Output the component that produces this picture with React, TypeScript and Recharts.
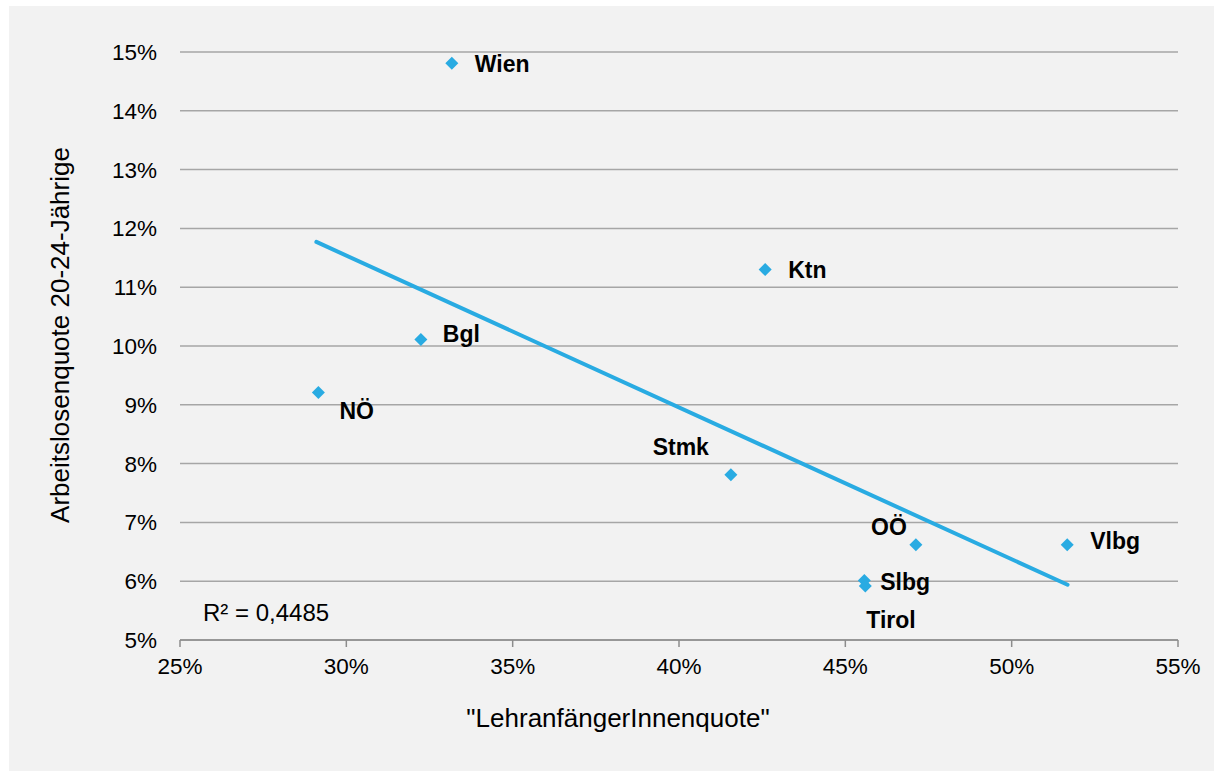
import { CartesianGrid, Label, Scatter, ScatterChart, XAxis, YAxis, ZAxis } from "recharts";

const REGIONS = ["Wien", "Ktn", "Bgl", "NÖ", "Stmk", "OÖ", "Vlbg", "Slbg", "Tirol"];
const LEHR_QUOTE = [33.17, 42.59, 32.24, 29.16, 41.56, 47.12, 51.67, 45.57, 45.6];
const ALQ_20_24 = [14.81, 11.3, 10.11, 9.21, 7.81, 6.62, 6.62, 6.01, 5.92];

const TREND_X = [29.1, 51.68];
const TREND_Y = [11.77, 5.94];

const X_TICKS = [25, 30, 35, 40, 45, 50, 55];
const Y_TICKS = [5, 6, 7, 8, 9, 10, 11, 12, 13, 14, 15];

const R2_TEXT = "R² = 0,4485";

const POINTS = REGIONS.map((name, i) => ({ name, x: LEHR_QUOTE[i], y: ALQ_20_24[i] }));
const TREND = TREND_X.map((x, i) => ({ x, y: TREND_Y[i] }));

// where each region label sits relative to its marker
const LABEL_POS: Record<string, { dx: number; dy: number; anchor: "start" | "end" }> = {
  Wien: { dx: 23, dy: 9, anchor: "start" },
  Ktn: { dx: 23, dy: 8, anchor: "start" },
  Bgl: { dx: 22, dy: 2, anchor: "start" },
  "NÖ": { dx: 21, dy: 27, anchor: "start" },
  Stmk: { dx: -22, dy: -20, anchor: "end" },
  "OÖ": { dx: -9, dy: -10, anchor: "end" },
  Vlbg: { dx: 23, dy: 4, anchor: "start" },
  Slbg: { dx: 16, dy: 9, anchor: "start" },
  Tirol: { dx: 1, dy: 42, anchor: "start" },
};

const BLUE = "#29abe2";
const FONT = "'Liberation Sans', Arial, sans-serif";

function Marker(props: any) {
  const { cx, cy, payload } = props;
  const pos = LABEL_POS[payload.name];
  const r = 6.5;
  return (
    <g>
      <path d={`M${cx},${cy - r}L${cx + r},${cy}L${cx},${cy + r}L${cx - r},${cy}Z`} fill={BLUE} />
      <text
        x={cx + pos.dx}
        y={cy + pos.dy}
        textAnchor={pos.anchor}
        fontFamily={FONT}
        fontSize={23}
        fontWeight="bold"
        fill="#000"
      >
        {payload.name}
      </text>
    </g>
  );
}

export default function App() {
  return (
    <div style={{ position: "absolute", left: 9, top: 6, width: 1205, height: 765, background: "#f2f2f2" }}>
      <ScatterChart width={1205} height={765} margin={{ top: 46, right: 36, bottom: 71, left: 0 }}>
        <CartesianGrid vertical={false} stroke="#a6a6a6" strokeWidth={1.5} />
        <ZAxis range={[80, 80]} />
        <XAxis
          type="number"
          dataKey="x"
          domain={[25, 55]}
          ticks={X_TICKS}
          tickFormatter={(v) => `${v}%`}
          height={60}
          tickSize={7}
          tickMargin={11}
          stroke="#8c8c8c"
          strokeWidth={1.5}
          tick={{ fontSize: 22.5, fill: "#000", fontFamily: FONT }}
        >
          <Label
            content={() => (
              <text x={609} y={721} textAnchor="middle" fontSize={26} fontFamily={FONT} fill="#000">
                "LehranfängerInnenquote"
              </text>
            )}
          />
        </XAxis>
        <YAxis
          type="number"
          dataKey="y"
          domain={[5, 15]}
          ticks={Y_TICKS}
          tickFormatter={(v) => `${v}%`}
          width={171}
          axisLine={false}
          tickLine={false}
          tickSize={6}
          tickMargin={17}
          tick={{ fontSize: 22.5, fill: "#000", fontFamily: FONT }}
        >
          <Label
            content={() => (
              <g>
                <text
                  x={60}
                  y={329}
                  transform="rotate(-90 60 329)"
                  textAnchor="middle"
                  fontSize={26}
                  fontFamily={FONT}
                  fill="#000"
                >
                  Arbeitslosenquote 20-24-Jährige
                </text>
                <text x={194} y={615} fontSize={24} fontFamily={FONT} fill="#000">
                  {R2_TEXT}
                </text>
              </g>
            )}
          />
        </YAxis>
        <Scatter
          data={TREND}
          line={{ stroke: BLUE, strokeWidth: 4, strokeLinecap: "round" }}
          shape={() => <g />}
          isAnimationActive={false}
        />
        <Scatter data={POINTS} shape={Marker} isAnimationActive={false} />
      </ScatterChart>
    </div>
  );
}
